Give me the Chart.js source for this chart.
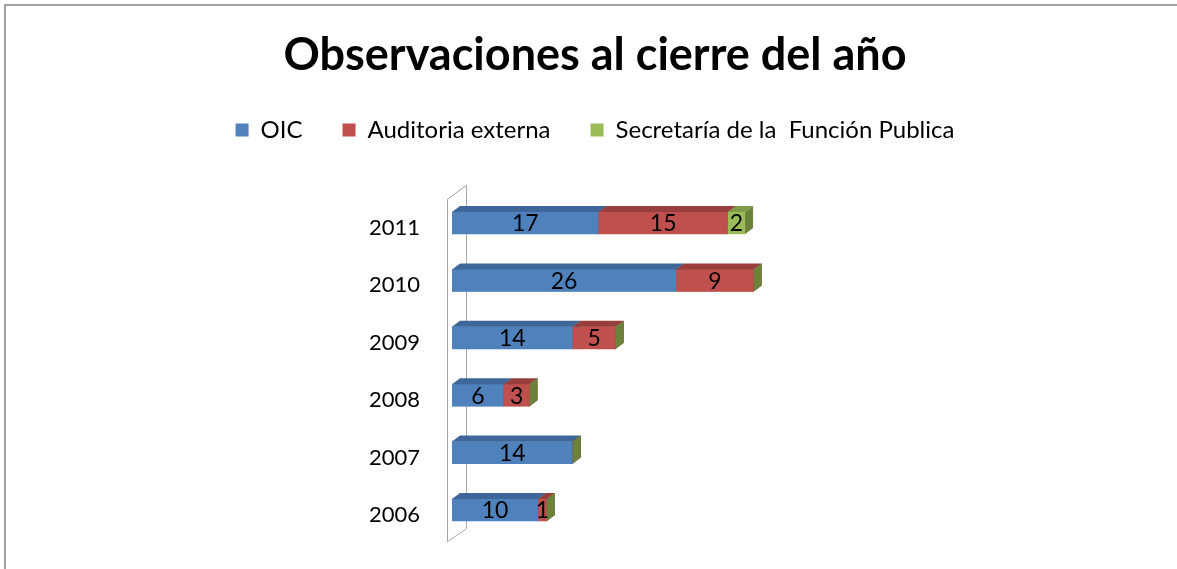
<!DOCTYPE html>
<html>
<head>
<meta charset="utf-8">
<script src="https://cdn.jsdelivr.net/npm/chart.js@4.4.1/dist/chart.umd.min.js"></script>
<style>
  html, body { margin: 0; padding: 0; background: #ffffff; }
  #wrap { position: relative; width: 1177px; height: 569px; }
</style>
</head>
<body>
<div id="wrap"><canvas id="chart" width="1177" height="569"></canvas></div>
<script>
// Categories (years) and the observations raised by each body
const years = ['2006', '2007', '2008', '2009', '2010', '2011'];
const oic = [10, 14, 6, 14, 26, 17];
const auditoriaExterna = [1, 0, 3, 5, 9, 15];
const funcionPublica = [0, 0, 0, 0, 0, 2];
const seriesNames = ['OIC', 'Auditoria externa', 'Secretaría de la  Función Publica'];

// Face colours: front, top, side
const palette = [
  { front: '#4F81BD', top: '#3E6698', side: '#385D8A' },
  { front: '#C0504D', top: '#983E3C', side: '#8A3836' },
  { front: '#9BBB59', top: '#7E9A45', side: '#6A823A' }
];

const DEPTH_X = 8, DEPTH_Y = 6;
const FONT = 'Lato, "Open Sans", sans-serif';

// Outer frame of the chart object
const framePlugin = {
  id: 'frame',
  beforeDraw(chart) {
    const ctx = chart.ctx;
    ctx.save();
    ctx.fillStyle = '#ffffff';
    ctx.fillRect(0, 0, chart.width, chart.height);
    ctx.fillStyle = '#A0A0A0';
    ctx.fillRect(4, 4, chart.width - 4, 2);
    ctx.fillRect(4, 4, 2, chart.height - 4);
    ctx.restore();
  }
};

// Back wall outline behind the bars
const wallPlugin = {
  id: 'wall',
  beforeDatasetsDraw(chart) {
    const { ctx, chartArea: a } = chart;
    const fx = Math.round(a.left - 5) + 0.5, bx = fx + 19;
    const fTop = a.top + 5, fBot = a.bottom + 3;
    ctx.save();
    ctx.strokeStyle = '#A6A6A6';
    ctx.lineWidth = 1;
    ctx.beginPath();
    ctx.moveTo(bx, fTop - 14);
    ctx.lineTo(bx, fBot - 13);
    ctx.moveTo(fx, fTop);
    ctx.lineTo(fx, fBot);
    ctx.moveTo(fx, fTop);
    ctx.lineTo(bx, fTop - 14);
    ctx.moveTo(fx, fBot);
    ctx.lineTo(bx, fBot - 13);
    ctx.stroke();
    ctx.restore();
  }
};

// Extruded look for each stacked segment, drawn series by series
// so that later segments cover the hidden side of earlier ones
const bar3dPlugin = {
  id: 'bar3d',
  afterDatasetsDraw(chart) {
    const ctx = chart.ctx;
    ctx.save();
    chart.data.datasets.forEach((ds, di) => {
      const meta = chart.getDatasetMeta(di);
      const c = palette[di];
      meta.data.forEach((el) => {
        const p = el.getProps(['x', 'y', 'base', 'height'], true);
        const l = Math.min(p.x, p.base), r = Math.max(p.x, p.base);
        const t = p.y - p.height / 2, b = p.y + p.height / 2;
        // front
        ctx.fillStyle = c.front;
        ctx.fillRect(l, t, r - l, b - t);
        // top
        ctx.fillStyle = c.top;
        ctx.beginPath();
        ctx.moveTo(l, t);
        ctx.lineTo(l + DEPTH_X, t - DEPTH_Y);
        ctx.lineTo(r + DEPTH_X, t - DEPTH_Y);
        ctx.lineTo(r, t);
        ctx.closePath();
        ctx.fill();
        // right side
        ctx.fillStyle = c.side;
        ctx.beginPath();
        ctx.moveTo(r, t);
        ctx.lineTo(r + DEPTH_X, t - DEPTH_Y);
        ctx.lineTo(r + DEPTH_X, b - DEPTH_Y);
        ctx.lineTo(r, b);
        ctx.closePath();
        ctx.fill();
      });
    });
    // value labels on the front faces
    ctx.fillStyle = '#000000';
    ctx.font = '23px ' + FONT;
    ctx.textAlign = 'center';
    ctx.textBaseline = 'middle';
    chart.data.datasets.forEach((ds, di) => {
      const meta = chart.getDatasetMeta(di);
      meta.data.forEach((el, i) => {
        const v = ds.data[i];
        if (!v) return;
        const p = el.getProps(['x', 'y', 'base'], true);
        ctx.fillText(String(v), (p.x + p.base) / 2, p.y + 1);
      });
    });
    ctx.restore();
  }
};

const seriesData = [oic, auditoriaExterna, funcionPublica];

new Chart(document.getElementById('chart'), {
  type: 'bar',
  data: {
    labels: years,
    datasets: seriesNames.map((name, i) => ({
      label: name,
      data: seriesData[i],
      backgroundColor: palette[i].front,
      borderWidth: 0,
      barThickness: 22
    }))
  },
  options: {
    indexAxis: 'y',
    responsive: false,
    animation: false,
    events: [],
    layout: { padding: { left: 134.6, right: 121.6, top: 0, bottom: 30.3 } },
    scales: {
      x: {
        position: 'top',
        stacked: true,
        min: 0,
        max: 70,
        grid: { display: false, drawTicks: false },
        border: { display: false },
        ticks: { display: false },
        afterFit(scale) { scale.height = 42.3; }
      },
      y: {
        stacked: true,
        reverse: true,
        grid: { display: false, drawTicks: false },
        border: { display: false },
        ticks: {
          color: '#000000',
          font: { family: FONT, size: 22 },
          padding: 32,
          labelOffset: 5
        },
        afterFit(scale) {
          scale.width = 317.4;
          scale.paddingTop = 0;
          scale.paddingBottom = 0;
        }
      }
    },
    plugins: {
      title: {
        display: true,
        text: 'Observaciones al cierre del año',
        color: '#000000',
        font: { family: FONT, size: 45, weight: 'bold', lineHeight: 1 },
        padding: { top: 33, bottom: 0 }
      },
      legend: {
        display: true,
        position: 'top',
        labels: {
          color: '#000000',
          font: { family: FONT, size: 24 },
          boxWidth: 13,
          boxHeight: 13,
          padding: 40
        }
      },
      tooltip: { enabled: false }
    }
  },
  plugins: [framePlugin, wallPlugin, bar3dPlugin]
});
</script>
</body>
</html>
